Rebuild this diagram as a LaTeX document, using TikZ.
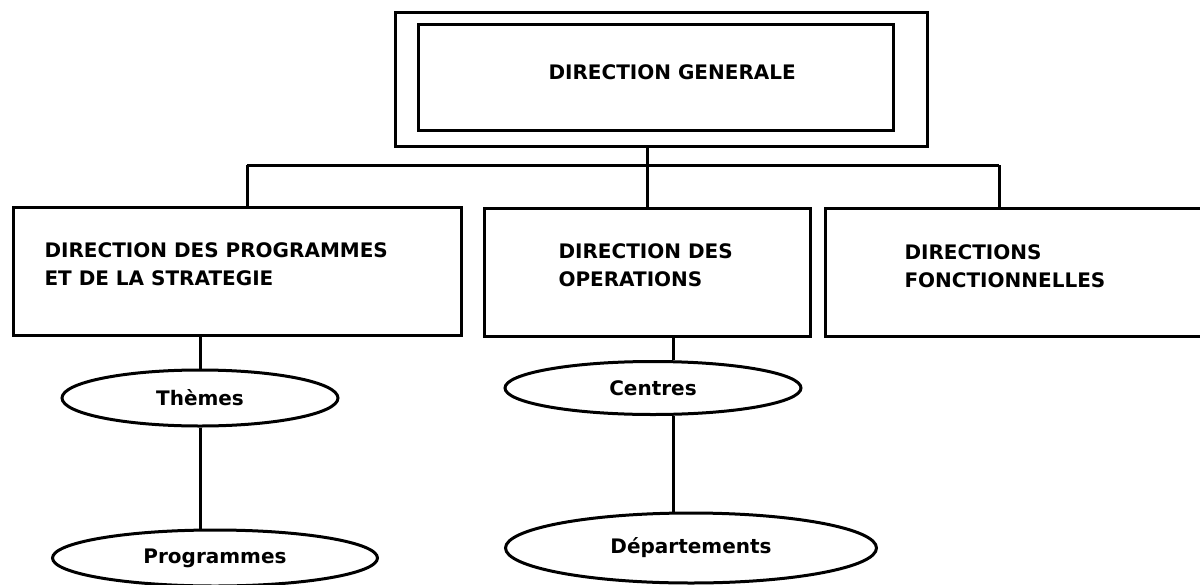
\documentclass[tikz,border=0pt]{standalone}
\usepackage{fontspec}
\setmainfont{DejaVu Sans}
\usetikzlibrary{shapes.geometric}
\begin{document}
\begin{tikzpicture}[x=1pt,y=-1pt,line width=3pt,
  box/.style={draw,rectangle,inner sep=0pt,anchor=north west},
  oval/.style={draw,ellipse,inner sep=0pt,font=\fontsize{20}{28}\selectfont\bfseries},
  txt/.style={inner sep=0pt,align=left,anchor=west,font=\fontsize{20}{28}\selectfont\bfseries}]
\useasboundingbox (0,0) rectangle (1200,584);

\node[box,minimum width=532pt,minimum height=134pt] (dg) at (394,11) {};
\node[box,minimum width=475pt,minimum height=106pt] (dgin) at (417,23) {};
\node[txt] (dgt) at (547,72) {DIRECTION GENERALE};

\node[box,minimum width=448pt,minimum height=128pt] (prog) at (12,206) {};
\node[box,minimum width=326pt,minimum height=128pt] (ops) at (483,207) {};
\node[box,minimum width=391pt,minimum height=128pt] (fonc) at (824,207) {};
\node[txt] (progt) at (43,264) {DIRECTION DES PROGRAMMES\\ET DE LA STRATEGIE};
\node[txt] (opst) at (557,265) {DIRECTION DES\\OPERATIONS};
\node[txt] (fonct) at (903,266) {DIRECTIONS\\FONCTIONNELLES};

\node[oval,minimum width=276pt,minimum height=56pt] (thm) at (200,398) {Thèmes};
\node[oval,minimum width=325pt,minimum height=56pt] (prg) at (215,558) {Programmes};
\node[oval,minimum width=296pt,minimum height=53pt] (ctr) at (653,388) {Centres};
\node[oval,minimum width=371pt,minimum height=70pt] (dep) at (691,548) {Départements};

\coordinate (busl) at (247,165);
\coordinate (busr) at (999,165);
\draw (dg.south -| ops.north) -- (ops.north);
\draw (busl) -- (busr);
\draw (busl) -- (busl |- prog.north);
\draw (busr) -- (busr |- fonc.north);

\draw (prog.south -| thm.north) -- (thm.north);
\draw (thm.south) -- (thm.south |- prg.north);
\draw (ops.south -| ctr.53) -- (ctr.53);
\draw (ctr.-53) -- (ctr.-53 |- dep.north);
\end{tikzpicture}
\end{document}
